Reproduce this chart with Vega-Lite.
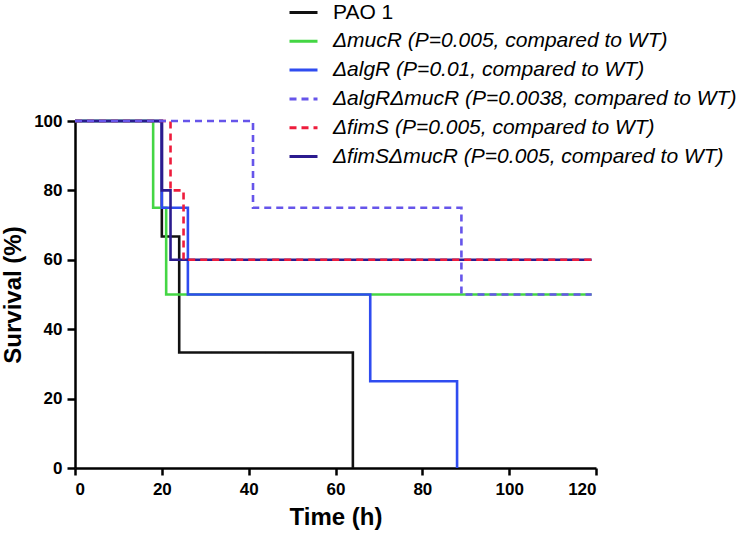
{
  "$schema": "https://vega.github.io/schema/vega-lite/v6.json",
  "width": 521,
  "height": 347,
  "autosize": {"type": "none"},
  "padding": {"left": 75, "top": 121, "right": 160, "bottom": 67},
  "background": "white",
  "config": {"view": {"stroke": null}},
  "data": {
    "values": [
      {"strain": "PAO 1", "t": 0, "s": 100},
      {"strain": "PAO 1", "t": 20, "s": 66.7},
      {"strain": "PAO 1", "t": 24, "s": 33.3},
      {"strain": "PAO 1", "t": 64, "s": 0},
      {"strain": "ΔmucR (P=0.005, compared to WT)", "t": 0, "s": 100},
      {"strain": "ΔmucR (P=0.005, compared to WT)", "t": 18, "s": 75},
      {"strain": "ΔmucR (P=0.005, compared to WT)", "t": 21, "s": 50},
      {"strain": "ΔmucR (P=0.005, compared to WT)", "t": 119, "s": 50},
      {"strain": "ΔalgR (P=0.01, compared to WT)", "t": 0, "s": 100},
      {"strain": "ΔalgR (P=0.01, compared to WT)", "t": 20, "s": 75},
      {"strain": "ΔalgR (P=0.01, compared to WT)", "t": 26, "s": 50},
      {"strain": "ΔalgR (P=0.01, compared to WT)", "t": 68, "s": 25},
      {"strain": "ΔalgR (P=0.01, compared to WT)", "t": 88, "s": 0},
      {"strain": "ΔfimSΔmucR (P=0.005, compared to WT)", "t": 0, "s": 100},
      {"strain": "ΔfimSΔmucR (P=0.005, compared to WT)", "t": 20, "s": 80},
      {"strain": "ΔfimSΔmucR (P=0.005, compared to WT)", "t": 22, "s": 60},
      {"strain": "ΔfimSΔmucR (P=0.005, compared to WT)", "t": 119, "s": 60},
      {"strain": "ΔfimS (P=0.005, compared to WT)", "t": 0, "s": 100},
      {"strain": "ΔfimS (P=0.005, compared to WT)", "t": 22, "s": 80},
      {"strain": "ΔfimS (P=0.005, compared to WT)", "t": 25, "s": 60},
      {"strain": "ΔfimS (P=0.005, compared to WT)", "t": 119, "s": 60},
      {"strain": "ΔalgRΔmucR (P=0.0038, compared to WT)", "t": 0, "s": 100},
      {"strain": "ΔalgRΔmucR (P=0.0038, compared to WT)", "t": 41, "s": 75},
      {"strain": "ΔalgRΔmucR (P=0.0038, compared to WT)", "t": 89, "s": 50},
      {"strain": "ΔalgRΔmucR (P=0.0038, compared to WT)", "t": 119, "s": 50}
    ]
  },
  "mark": {"type": "line", "interpolate": "step-after", "strokeWidth": 2.6},
  "encoding": {
    "x": {
      "field": "t", "type": "quantitative",
      "scale": {"domain": [0, 120], "nice": false},
      "axis": {
        "title": "Time (h)", "values": [0, 20, 40, 60, 80, 100, 120], "grid": false,
        "domainColor": "black", "domainWidth": 2.5, "tickColor": "black", "tickWidth": 2.5, "tickSize": 7,
        "labelFont": "Liberation Sans", "labelFontWeight": "bold", "labelFontSize": 17, "labelColor": "black", "labelPadding": 6,
        "titleFont": "Liberation Sans", "titleFontWeight": "bold", "titleFontSize": 24, "titleColor": "black", "titlePadding": 8
      }
    },
    "y": {
      "field": "s", "type": "quantitative",
      "scale": {"domain": [0, 100], "nice": false},
      "axis": {
        "title": "Survival (%)", "values": [0, 20, 40, 60, 80, 100], "grid": false,
        "domainColor": "black", "domainWidth": 2.5, "tickColor": "black", "tickWidth": 2.5, "tickSize": 8,
        "labelFont": "Liberation Sans", "labelFontWeight": "bold", "labelFontSize": 17, "labelColor": "black", "labelPadding": 5,
        "titleFont": "Liberation Sans", "titleFontWeight": "bold", "titleFontSize": 24, "titleColor": "black", "titlePadding": 8
      }
    },
    "color": {
      "field": "strain", "type": "nominal",
      "scale": {
        "domain": ["PAO 1", "ΔmucR (P=0.005, compared to WT)", "ΔalgR (P=0.01, compared to WT)", "ΔalgRΔmucR (P=0.0038, compared to WT)", "ΔfimS (P=0.005, compared to WT)", "ΔfimSΔmucR (P=0.005, compared to WT)"],
        "range": ["#111111", "#44d644", "#2f4cf0", "#6655ea", "#ee1c3c", "#2b1b8f"]
      },
      "legend": {
        "title": null, "orient": "none", "legendX": 213, "legendY": -124, "padding": 0,
        "symbolType": "stroke", "symbolSize": 784, "symbolStrokeWidth": 3, "rowPadding": 2.8,
        "labelFont": "Liberation Sans", "labelFontSize": 21, "labelColor": "black", "labelOffset": 14, "labelLimit": 0,
        "encode": {"labels": {"update": {"fontStyle": {"signal": "datum.label == 'PAO 1' ? 'normal' : 'italic'"}}}}
      }
    },
    "strokeDash": {
      "field": "strain", "type": "nominal",
      "scale": {
        "domain": ["PAO 1", "ΔmucR (P=0.005, compared to WT)", "ΔalgR (P=0.01, compared to WT)", "ΔalgRΔmucR (P=0.0038, compared to WT)", "ΔfimS (P=0.005, compared to WT)", "ΔfimSΔmucR (P=0.005, compared to WT)"],
        "range": [[1, 0], [1, 0], [1, 0], [7, 5], [7, 5], [1, 0]]
      },
      "legend": {
        "title": null, "orient": "none", "legendX": 213, "legendY": -124, "padding": 0,
        "symbolType": "stroke", "symbolSize": 784, "symbolStrokeWidth": 3, "rowPadding": 2.8,
        "labelFont": "Liberation Sans", "labelFontSize": 21, "labelColor": "black", "labelOffset": 14, "labelLimit": 0,
        "encode": {"labels": {"update": {"fontStyle": {"signal": "datum.label == 'PAO 1' ? 'normal' : 'italic'"}}}}
      }
    }
  }
}
